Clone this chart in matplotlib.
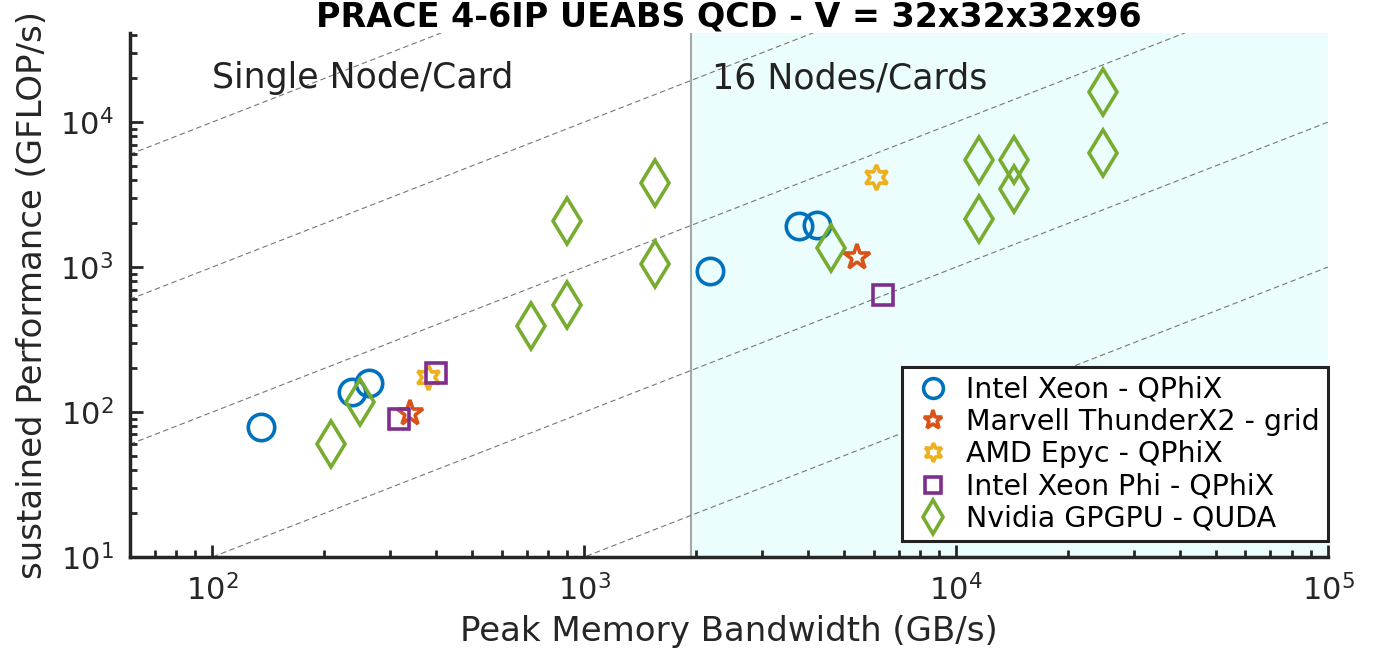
import matplotlib.pyplot as plt
import numpy as np

# Peak memory bandwidth (GB/s) and sustained performance (GFLOP/s)
xeon_bw = [135, 237, 263, 2180, 3780, 4230]
xeon_perf = [79, 137, 158, 940, 1920, 1950]

marvell_bw = [340, 5420]
marvell_perf = [98, 1170]

amd_bw = [379, 6100]
amd_perf = [174, 4170]

phi_bw = [318, 398, 6370]
phi_perf = [89, 186, 641]

gpu_bw = [208, 250, 721, 896, 896, 1552, 1552, 4620, 11500, 11500, 14300, 14300, 24800, 24800]
gpu_perf = [60, 117, 392, 547, 2075, 1050, 3800, 1350, 2140, 5470, 3450, 5470, 16100, 6110]

# flop/byte ratios of the guide lines
ratios = [0.01, 0.1, 1, 10, 100]
split_bw = 1940

fig = plt.figure(figsize=(13.78, 6.52), dpi=100)
ax = fig.add_axes([0.0943, 0.1457, 0.8694, 0.8033])

xlim = (60, 1e5)
ylim = (10, 41000)
ax.axvspan(split_bw, xlim[1], color='#ebfdfd', zorder=0)
ax.axvline(split_bw, color='#a0a8a8', lw=1.5, zorder=1)

xs = np.array(xlim)
for k in ratios:
    ax.plot(xs, k * xs, ls=(0, (5, 3)), color='#777777', lw=0.8, zorder=1)

ms = 19
mew = 2.6
ax.plot(xeon_bw, xeon_perf, 'o', ms=ms, mfc='none', mec='#0072BD', mew=mew, label='Intel Xeon - QPhiX')
ax.plot(marvell_bw, marvell_perf, '*', ms=ms, mfc='none', mec='#D95319', mew=mew, label='Marvell ThunderX2 - grid')
ax.plot(amd_bw, amd_perf, marker=(6, 1, 0), ls='none', ms=ms - 1, mfc='none', mec='#EDB120', mew=mew, label='AMD Epyc - QPhiX')
ax.plot(phi_bw, phi_perf, 's', ms=ms - 4, mfc='none', mec='#7E2F8E', mew=mew, label='Intel Xeon Phi - QPhiX')
ax.plot(gpu_bw, gpu_perf, 'd', ms=ms + 4, mfc='none', mec='#77AC30', mew=mew, label='Nvidia GPGPU - QUDA')

ax.set_xscale('log')
ax.set_yscale('log')
ax.set_xlim(*xlim)
ax.set_ylim(*ylim)

for side in ['top', 'right']:
    ax.spines[side].set_visible(False)
for side in ['left', 'bottom']:
    ax.spines[side].set_linewidth(2.5)
    ax.spines[side].set_color('#262626')
ax.tick_params(which='both', direction='in', labelsize=22, width=2, colors='#262626')
ax.tick_params(which='major', length=9, pad=12)
ax.tick_params(which='minor', length=5)
ax.set_facecolor('none')

ax.set_xlabel('Peak Memory Bandwidth (GB/s)', fontsize=24.5, color='#262626', labelpad=6)
ax.set_ylabel('sustained Performance (GFLOP/s)', fontsize=24.5, color='#262626', labelpad=8)
ax.set_title('PRACE 4-6IP UEABS QCD - V = 32x32x32x96', fontsize=24, fontweight='bold', pad=3)

ax.text(100, 20000, 'Single Node/Card', fontsize=25, va='center', color='#222222')
ax.text(2210, 20000, '16 Nodes/Cards', fontsize=25, va='center', color='#222222')

leg = ax.legend(loc='lower right', fontsize=20.5, frameon=True, fancybox=False,
                borderpad=0.3, labelspacing=0.15, handletextpad=0.35, handlelength=1.6,
                markerscale=0.75, borderaxespad=0, bbox_to_anchor=(1.0, 0.03))
leg.get_frame().set_edgecolor('#222222')
leg.get_frame().set_linewidth(2.2)
leg.get_frame().set_alpha(1)

fig.savefig('out.png', dpi=100)
